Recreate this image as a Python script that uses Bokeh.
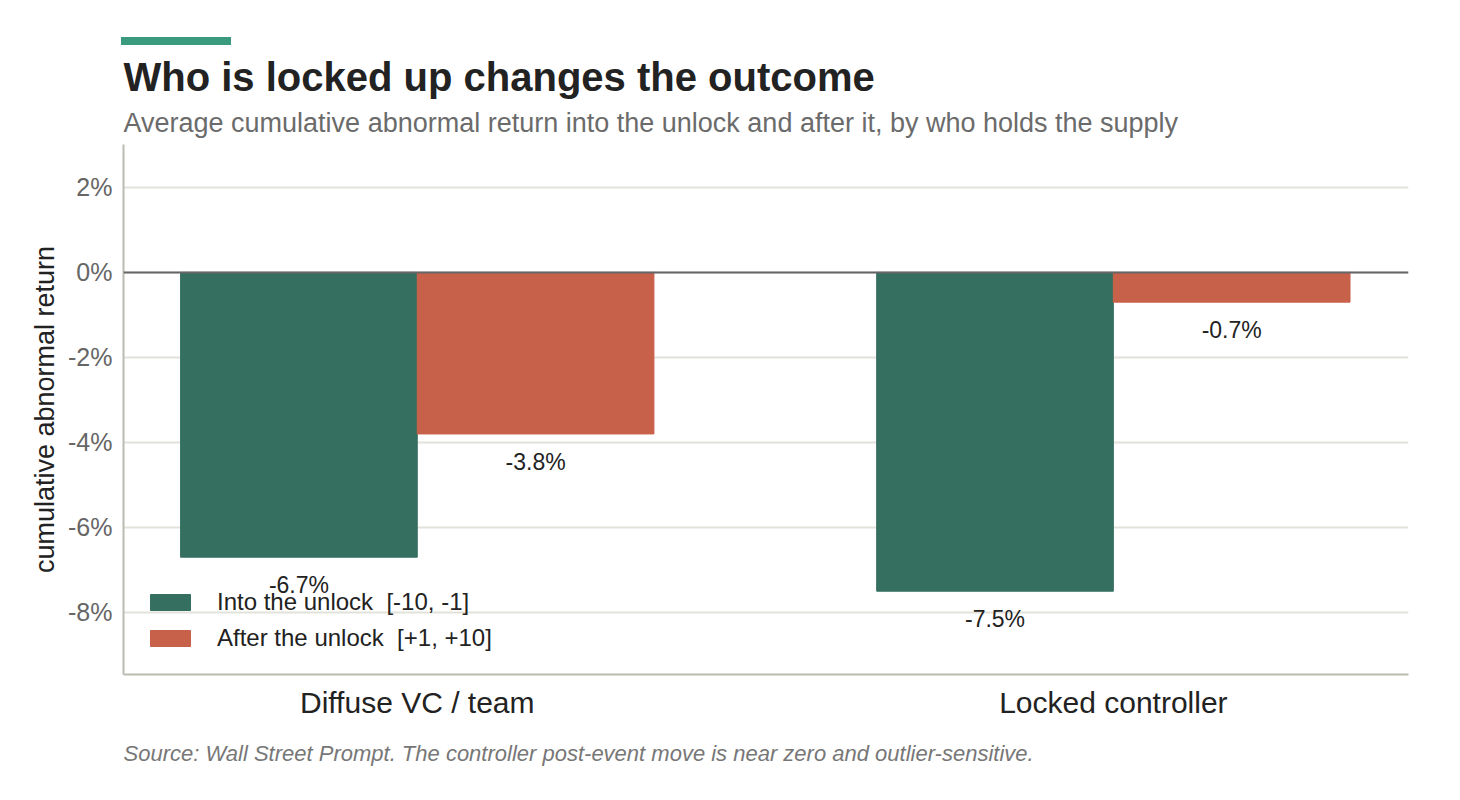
from bokeh.plotting import figure
from bokeh.models import ColumnDataSource, Title, Span, Div, FixedTicker, Legend, LegendItem, LabelSet, NumeralTickFormatter
from bokeh.core.properties import value
from bokeh.layouts import column
from bokeh.embed import file_html
from bokeh.resources import INLINE

groups = ["Diffuse VC / team", "Locked controller"]
into_unlock = [-6.7, -7.5]
after_unlock = [-3.8, -0.7]
series_names = ["Into the unlock  [-10, -1]", "After the unlock  [+1, +10]"]
yticks = [-8, -6, -4, -2, 0, 2]

FONT = "Liberation Sans"
GREEN = "#356f60"
RED = "#c8614a"
w = 0.34
xc = list(range(len(groups)))

p = figure(frame_width=1285, frame_height=530, output_backend="svg", toolbar_location=None,
           x_range=(-0.422, 1.424), y_range=(-9.46, 3.01),
           min_border_left=123, min_border_right=31, min_border_top=22, min_border_bottom=10)

src1 = ColumnDataSource(dict(x=[c - w/2 for c in xc], top=into_unlock,
                             lab=[f"{v:.1f}%" for v in into_unlock]))
src2 = ColumnDataSource(dict(x=[c + w/2 for c in xc], top=after_unlock,
                             lab=[f"{v:.1f}%" for v in after_unlock]))
r1 = p.vbar(x="x", top="top", bottom=0, width=w, color=GREEN, source=src1)
r2 = p.vbar(x="x", top="top", bottom=0, width=w, color=RED, source=src2)
for s in (src1, src2):
    p.add_layout(LabelSet(x="x", y="top", text="lab", source=s, y_offset=-41, text_align="center",
                          text_font=value(FONT), text_font_size="23px", text_color="#222222"))

p.add_layout(Span(location=0, dimension="width", line_color="#666666", line_width=2))

p.xaxis.ticker = FixedTicker(ticks=xc)
p.xaxis.major_label_overrides = {i: g for i, g in enumerate(groups)}
p.xaxis.major_label_text_font = FONT
p.xaxis.major_label_text_font_size = "30px"
p.xaxis.major_label_text_color = "#222222"
p.xaxis.major_tick_line_color = None
p.xaxis.minor_tick_line_color = None
p.xaxis.axis_line_color = "#bbbbb2"
p.xaxis.axis_line_width = 2
p.xgrid.grid_line_color = None

p.yaxis.ticker = FixedTicker(ticks=yticks)
p.yaxis.formatter = NumeralTickFormatter(format="0")
p.yaxis.major_label_overrides = {t: f"{t}%" for t in yticks}
p.yaxis.major_label_text_font = FONT
p.yaxis.major_label_text_font_size = "25px"
p.yaxis.major_label_text_color = "#666666"
p.yaxis.major_tick_line_color = None
p.yaxis.minor_tick_line_color = None
p.yaxis.axis_line_color = "#bbbbb2"
p.yaxis.axis_line_width = 2
p.yaxis.axis_label = "cumulative abnormal return"
p.yaxis.axis_label_text_font = FONT
p.yaxis.axis_label_text_font_size = "27px"
p.yaxis.axis_label_text_font_style = "normal"
p.yaxis.axis_label_text_color = "#222222"
p.ygrid.grid_line_color = "#e2e2da"
p.ygrid.grid_line_width = 2
p.outline_line_color = None

legend = Legend(items=[LegendItem(label=series_names[0], renderers=[r1]),
                       LegendItem(label=series_names[1], renderers=[r2])],
                location="bottom_left", background_fill_alpha=0, border_line_color=None,
                label_text_font=FONT, label_text_font_size="24px", label_text_color="#222222",
                glyph_width=50, glyph_height=20, spacing=8, margin=22, padding=0, label_standoff=22)
p.add_layout(legend)

p.add_layout(Title(text="Source: Wall Street Prompt. The controller post-event move is near zero and outlier-sensitive.",
                   text_font=FONT, text_font_size="22px", text_font_style="italic",
                   text_color="#777777", align="left", standoff=34), "below")
p.add_layout(Title(text="Average cumulative abnormal return into the unlock and after it, by who holds the supply",
                   text_font=FONT, text_font_size="27px", text_font_style="normal",
                   text_color="#6b6b6b", align="left", standoff=14), "above")
p.add_layout(Title(text="Who is locked up changes the outcome", text_font=FONT, text_font_size="40px",
                   text_font_style="bold", text_color="#222222", align="left", standoff=0), "above")

bar = Div(text='<div style="width:110px;height:8px;background:#3a9a7e;margin-left:116px;margin-top:32px"></div>',
          width=1440, height=42)
layout = column(bar, p, spacing=0)
open("out.html", "w").write(file_html(layout, INLINE))
